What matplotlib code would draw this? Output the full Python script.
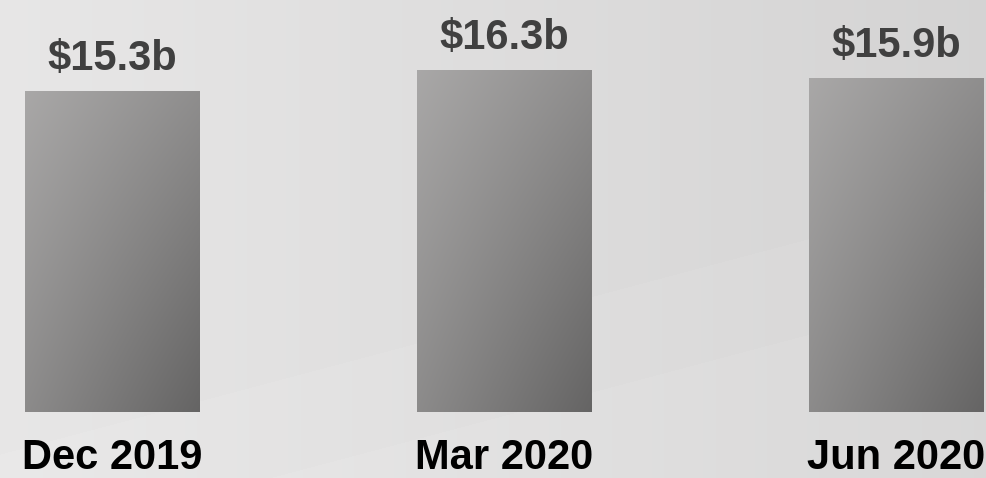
import numpy as np
import matplotlib
matplotlib.use("Agg")
import matplotlib.pyplot as plt

categories = ["Dec 2019", "Mar 2020", "Jun 2020"]
values = [15.3, 16.3, 15.9]
value_labels = ["$15.3b", "$16.3b", "$15.9b"]

W, H = 987, 478
fig = plt.figure(figsize=(W / 100, H / 100), dpi=100)

# background
bg = fig.add_axes([0, 0, 1, 1], zorder=0)
bg.set_axis_off()
yy, xx = np.mgrid[0:H, 0:W]
xn = xx / W
yn = yy / H
base = 0.905 - 0.075 * xn
# subtle light swoosh bands in the lower part
band1 = 0.95 - 0.55 * xn
band2 = 1.15 - 0.55 * xn
base = base + 0.008 * (yn > band1) + 0.008 * (yn > band2)
img = np.dstack([base + 0.003, base, base])
bg.imshow(np.clip(img, 0, 1), extent=[0, 1, 0, 1], aspect="auto", origin="upper")
bg.set_xlim(0, 1)
bg.set_ylim(0, 1)

ax = fig.add_axes([0, 0, 1, 1], zorder=1)
ax.patch.set_alpha(0)
x = np.arange(len(categories))
ppu_x = 392.0
ppu_y = 21.0
ax.set_axis_off()

bars = ax.bar(x, values, width=175 / ppu_x, color="none", edgecolor="none")

# gradient fill for each bar
gy, gx = np.mgrid[0:1:200j, 0:1:200j]
g = (169 - 26 * gx - 29 * gy - 13 * gx * gy) / 255.0
grad = np.dstack([g, g * 0.992, g * 0.99])
for b in bars:
    x0, y0 = b.get_x(), b.get_y()
    w, h = b.get_width(), b.get_height()
    im = ax.imshow(grad, extent=[x0, x0 + w, y0, y0 + h], origin="upper",
                   aspect="auto", zorder=2)
    im.set_clip_path(b)

ax.set_xlim(-112.5 / ppu_x, (W - 112.5) / ppu_x)
ax.set_ylim(-66 / ppu_y, 412 / ppu_y)

for xi, v, lab in zip(x, values, value_labels):
    ax.annotate(lab, (xi, v), xytext=(0, 15), textcoords="offset points",
                ha="center", va="baseline", fontsize=30, fontweight="bold",
                color="#404040", family="Liberation Sans", zorder=3)

for xi, cat in zip(x, categories):
    ax.text(xi, -57 / ppu_y, cat, ha="center", va="baseline", fontsize=30,
            fontweight="bold", color="#000000", family="Liberation Sans", zorder=3)

fig.savefig("out.png", dpi=100)
